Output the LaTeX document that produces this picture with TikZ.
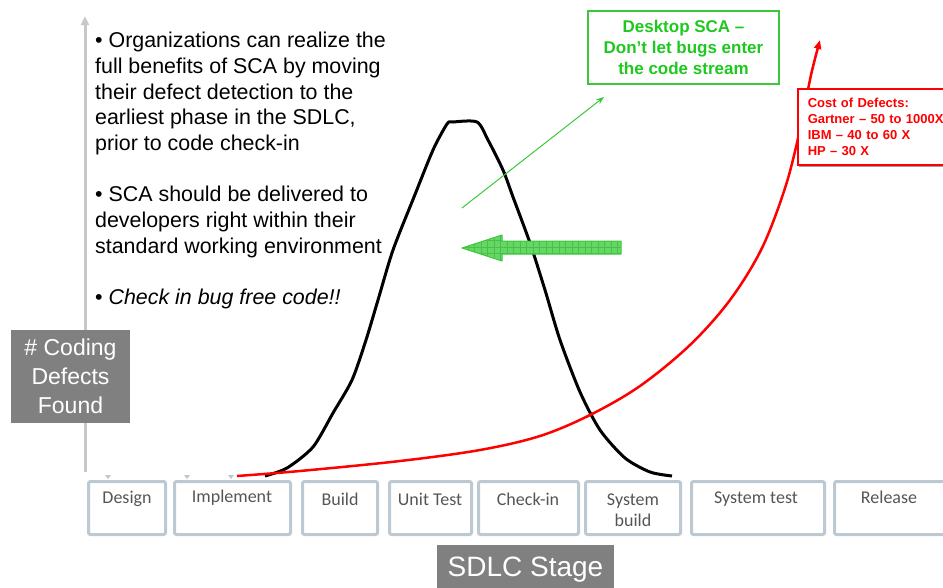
\documentclass[tikz,border=0pt]{standalone}
\usepackage{fontspec}
\setmainfont{Liberation Sans}
\newfontfamily\boxfont{Carlito}
\usetikzlibrary{arrows.meta}
\definecolor{axisgray}{RGB}{200,200,200}
\definecolor{labelgray}{RGB}{128,128,128}
\definecolor{boxblue}{RGB}{188,200,210}
\definecolor{boxtext}{RGB}{85,85,85}
\definecolor{sgreen}{RGB}{60,200,60}
\definecolor{sgtext}{RGB}{30,200,30}
\definecolor{sgfill}{RGB}{100,215,100}
\definecolor{sggrid}{RGB}{75,190,75}
\begin{document}
\begin{tikzpicture}[x=1pt,y=-1pt,
  stagebox/.style={draw=boxblue, line width=3pt, rounded corners=2pt, minimum height=53pt, inner sep=0pt},
  stagelbl/.style={font=\boxfont\fontsize{18}{21}\selectfont, text=boxtext, align=center, inner sep=0pt},
  graybox/.style={fill=labelgray, text=white, align=center, inner sep=0pt},
  tickmark/.style={fill=boxblue}]
\useasboundingbox (0,0) rectangle (943,587);

% stage boxes
\node[stagebox, minimum width=77pt]  (design) at (127,508) {};
\node[stagebox, minimum width=116pt] (impl)   at (232.5,508) {};
\node[stagebox, minimum width=75pt]  (build)  at (340,508) {};
\node[stagebox, minimum width=82pt]  (unit)   at (430.5,508) {};
\node[stagebox, minimum width=100pt] (checkin) at (528.5,508) {};
\node[stagebox, minimum width=95pt]  (sysb)   at (633,508) {};
\node[stagebox, minimum width=133pt] (syst)   at (758,508) {};
\node[stagebox, minimum width=113pt] (rel)    at (891,508) {};

\node[stagelbl] (ldesign) at (127,499) {Design};
\node[stagelbl] (limpl)   at (232,498) {Implement};
\node[stagelbl] (lbuild)  at (340,499) {Build};
\node[stagelbl] (lunit)   at (430,499) {Unit Test};
\node[stagelbl] (lcheck)  at (528,499) {Check-in};
\node[stagelbl] (lsysb)   at (633,510.5) {System\\build};
\node[stagelbl] (lsyst)   at (756,499) {System test};
\node[stagelbl] (lrel)    at (889,497) {Release};

% small ticks
\fill[tickmark] (105,475) -- (111,475) -- (108,479) -- cycle;
\fill[tickmark] (184,475) -- (190,475) -- (187,479) -- cycle;
\fill[tickmark] (228,475) -- (234,475) -- (231,479) -- cycle;

% axis
\coordinate (axbot) at (85,472);
\coordinate (axtop) at (85,16);
\draw[axisgray, line width=3pt, -{Triangle[length=9pt,width=8pt]}] (axbot) -- (axtop);

% gray labels
\node[graybox, minimum width=119pt, minimum height=93pt, font=\fontsize{23}{29}\selectfont] (ylabel) at (70.5,376.5) {\# Coding\\Defects\\Found};
\node[graybox, minimum width=177pt, minimum height=50pt, font=\fontsize{28}{34}\selectfont] (xlabel) at (525.5,570) {SDLC Stage};

% bullet text
\node[anchor=north west, inner sep=0pt, align=left, font=\fontsize{21.4}{25.7}\selectfont] (bullets) at (95,32)
 {• Organizations can realize the\\ full benefits of SCA by moving\\ their defect detection to the\\ earliest phase in the SDLC,\\ prior to code check-in\\[25.7pt] • SCA should be delivered to\\ developers right within their\\ standard working environment\\[25.7pt] • \textit{Check in bug free code!!}};

% bell curve
\draw[black, line width=3pt, line join=round] plot[smooth, tension=0.45] coordinates
 {(265,476) (287,468) (313,447) (333,413) (352,380) (366,340) (378,300) (393,250) (414,197) (433,150) (447,124) (453,122) (477,122) (488,140) (503,170) (513,197) (530,243) (545,290) (560,340) (580,392) (600,430) (625,458) (650,472) (672,476)};

% block arrow
\fill[sgfill] (621,241) -- (502,241) -- (502,235) -- (462,248) -- (502,261) -- (502,254) -- (621,254) -- cycle;
\begin{scope}
\clip (621,241) -- (502,241) -- (502,235) -- (462,248) -- (502,261) -- (502,254) -- (621,254) -- cycle;
\draw[sggrid, line width=0.4pt, step=6.5pt] (455,228) grid (625,265);
\end{scope}
\draw[sgreen, line width=1pt, line join=round] (621,241) -- (502,241) -- (502,235) -- (462,248) -- (502,261) -- (502,254) -- (621,254) -- cycle;

% red curve
\draw[red, line width=2.5pt, -{Triangle[length=9pt,width=7pt]}] plot[smooth, tension=0.55] coordinates
 {(237,476) (300,471) (400,461) (480,450) (540,436) (590,415) (640,386) (690,345) (730,300) (762,248) (786,185) (801,125) (811,75) (820,40)};

% red box
\fill[gray!75] (799,91) rectangle (960,167);
\node[draw=red, line width=1.5pt, fill=white, anchor=north west, minimum width=165pt, minimum height=76pt, text width=145pt, inner xsep=10pt, align=left, text=red, font=\bfseries\fontsize{13}{16}\selectfont] (cost) at (797,88)
 {Cost of Defects:\\Gartner – 50 to 1000X\\IBM – 40 to 60 X\\HP – 30 X};

% green box and arrow
\node[draw=sgreen, line width=1.5pt, minimum width=191pt, minimum height=73pt, text=sgtext, font=\bfseries\fontsize{17}{21}\selectfont, align=center] (desk) at (683.5,47.5)
 {Desktop SCA –\\Don’t let bugs enter\\the code stream};
\coordinate (ga0) at (462,208);
\coordinate (ga1) at (604,97);
\draw[sgreen, line width=1pt, -{Stealth[length=8pt,width=6pt]}] (ga0) -- (ga1);
\end{tikzpicture}
\end{document}
